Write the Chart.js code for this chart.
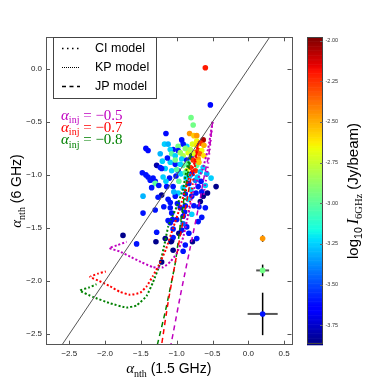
<!DOCTYPE html>
<html><head><meta charset="utf-8">
<script src="https://cdn.jsdelivr.net/npm/chart.js@4/dist/chart.umd.min.js"></script>
<style>html,body{margin:0;padding:0;background:#fff;}canvas{display:block;}</style>
</head><body>
<canvas id="c" width="390" height="382"></canvas>
<script>
// ---------- data ----------
const xTicks = [-2.5, -2.0, -1.5, -1.0, -0.5, 0.0, 0.5];
const yTicks = [-2.5, -2.0, -1.5, -1.0, -0.5, 0.0];
const cbTicks = [-3.75, -3.5, -3.25, -3.0, -2.75, -2.5, -2.25, -2.0];
const xRange = [-2.825, 0.603];
const yRange = [-2.6, 0.297];
const cbRange = [-3.87, -1.98];

// observed points: alpha_nth(1.5GHz), alpha_nth(6GHz), log10 I_6GHz
const ptX = [-0.60,-0.53,-0.80,-0.77,-1.15,-0.93,-1.43,-1.40,-1.17,-0.82,-0.76,-0.72,-0.63,-0.72,-0.67,-0.78,-0.86,-0.91,-0.98,-1.05,
 -1.09,-0.98,-0.84,-0.74,-0.70,-0.65,-1.07,-1.02,-0.91,-0.79,-0.93,-0.86,-0.77,-0.70,-1.09,-1.02,-1.28,-1.23,-1.16,-0.91,
 -0.81,-0.72,-0.63,-0.86,-0.74,-0.98,-1.07,-1.21,-1.40,-1.37,-1.33,-1.30,-1.19,-1.10,-1.30,-1.47,-1.21,-1.05,-1.12,-1.09,
 -1.47,-1.30,-1.09,-1.00,-0.45,-0.60,-0.70,-0.65,-0.63,-0.79,-0.67,-0.60,-0.79,-0.88,-0.95,-0.70,-0.86,-1.09,-1.05,-0.91,
 -1.28,-1.75,-1.56,-0.88,-0.72,-1.07,-0.93,-1.29,-1.05,-0.91,-0.78,-1.21,-1.12,-0.67,-0.58,-0.52,-0.79,-0.87,-0.97,-1.01,
 -0.91,-0.83,-0.74,-0.88,-0.98,-0.76,-0.88,-0.95,-1.02,-0.81,-0.72,-0.62,-0.69,-1.12,-1.23,-0.65,-0.91,-1.06,-1.43,-1.48,
 -1.14,-1.05,-1.07,-1.08,
 -0.95,-0.84,-0.76,-0.68,-0.62,-1.13,-1.20,-1.00,-0.94,-0.82,-0.71,-0.66,-1.15,-1.25,-1.35,-1.02,-0.84,-0.73,-0.57,-1.18,
 -0.97,-0.83,-1.16,-0.99,-1.26,-0.89,-0.80,-0.69,-1.04,-0.88];
const ptY = [0.01,-0.34,-0.46,-0.53,-0.61,-0.67,-0.75,-0.77,-0.71,-0.61,-0.63,-0.63,-0.67,-0.68,-0.70,-0.71,-0.73,-0.71,-0.73,-0.76,
 -0.76,-0.77,-0.79,-0.79,-0.77,-0.77,-0.80,-0.82,-0.82,-0.82,-0.85,-0.86,-0.86,-0.85,-0.88,-0.90,-0.91,-0.93,-0.94,-0.91,
 -0.93,-0.91,-0.93,-0.96,-0.96,-0.96,-0.96,-0.94,-1.02,-1.05,-1.03,-1.06,-1.02,-1.03,-1.08,-1.20,-1.19,-1.11,-1.23,-1.26,
 -1.36,-1.33,-1.31,-1.42,-1.11,-1.10,-1.11,-1.16,-1.20,-1.20,-1.25,-1.31,-1.37,-1.29,-1.31,-1.44,-1.49,-1.45,-1.51,-1.46,
 -1.54,-1.57,-1.65,-1.66,-1.60,-1.62,-1.52,-1.63,-1.71,-1.72,-1.63,-1.82,-1.43,-0.97,-0.99,-1.03,-0.99,-1.03,-1.06,-1.01,
 -1.12,-1.08,-1.05,-1.18,-1.17,-1.29,-0.75,-0.79,-0.86,-0.76,-0.72,-0.72,-0.88,-0.71,-0.80,-1.40,-1.39,-1.42,-1.00,-0.98,
 -1.11,-1.59,-1.36,-1.63,
 -0.90,-0.89,-0.80,-0.80,-0.82,-0.84,-0.87,-0.95,-0.99,-1.01,-1.02,-1.06,-1.06,-1.10,-1.12,-1.20,-1.23,-1.17,-1.17,-1.30,
 -1.55,-1.55,-1.60,-1.27,-1.21,-1.35,-1.14,-1.30,-1.16,-0.98];
const ptV = [-2.2,-3.62,-2.95,-2.95,-3.62,-3.62,-3.62,-3.62,-3.25,-2.45,-2.55,-2.45,-2.05,-2.65,-2.25,-2.7,-3.25,-3.6,-2.95,-3.6,
 -3.25,-3.6,-2.7,-2.45,-2.25,-2.65,-3.0,-3.25,-2.8,-3.6,-3.25,-3.6,-2.25,-2.45,-3.25,-3.6,-3.8,-3.6,-3.25,-3.0,
 -2.25,-3.0,-3.25,-2.7,-2.25,-3.6,-3.25,-3.6,-3.6,-3.6,-3.6,-3.6,-3.25,-3.6,-3.0,-3.3,-3.85,-3.6,-3.6,-3.6,
 -3.6,-3.6,-3.6,-3.6,-3.85,-3.25,-3.6,-3.6,-3.85,-3.6,-3.85,-3.6,-3.25,-3.6,-3.6,-3.6,-3.6,-3.6,-3.6,-3.45,
 -3.6,-3.85,-3.6,-3.6,-3.6,-3.85,-3.6,-3.85,-3.85,-3.6,-3.85,-3.85,-3.6,-3.25,-3.3,-3.25,-3.6,-3.25,-3.0,-3.6,
 -3.25,-3.6,-3.4,-3.6,-3.25,-3.6,-2.9,-2.85,-2.95,-2.8,-2.6,-2.5,-2.55,-3.3,-3.3,-3.6,-3.6,-3.6,-3.6,-3.6,
 -3.6,-3.6,-3.6,-3.85,
 -3.25,-3.0,-2.7,-2.35,-2.6,-3.6,-3.25,-3.0,-3.25,-3.3,-3.25,-3.6,-3.25,-3.6,-3.6,-3.6,-3.25,-3.6,-3.85,-3.6,
 -3.85,-3.6,-3.85,-3.6,-3.6,-3.6,-3.25,-3.6,-3.3,-3.0];

// typical uncertainty markers
const errX = [0.2, 0.2, 0.2];
const errY = [-1.60, -1.90, -2.31];
const errDX = [0.03, 0.09, 0.21];
const errDY = [0.03, 0.055, 0.20];
const errV = [-2.45, -2.95, -3.6];

// 1:1 line
const oneX = [-2.6, 0.3];
const oneY = [-2.6, 0.3];

// model tracks (alpha_inj = -0.5 magenta, -0.7 red, -0.8 green)
const loopMX = [-0.5,-0.56,-0.64,-0.72,-0.77,-0.84,-0.91,-1.0,-1.09,-1.19,-1.33,-1.5,-1.65,-1.8,-1.94,-1.82,-1.70];
const loopMY = [-0.5,-0.75,-0.95,-1.06,-1.16,-1.38,-1.59,-1.74,-1.82,-1.87,-1.87,-1.82,-1.77,-1.72,-1.69,-1.66,-1.63];
const loopRX = [-0.7,-0.76,-0.86,-0.95,-1.05,-1.15,-1.25,-1.33,-1.42,-1.51,-1.65,-1.8,-1.93,-2.08,-2.21,-2.10,-1.99];
const loopRY = [-0.7,-0.9,-1.09,-1.3,-1.5,-1.7,-1.85,-1.95,-2.05,-2.11,-2.13,-2.1,-2.05,-2.0,-1.96,-1.93,-1.91];
const loopGX = [-0.8,-0.86,-0.91,-1.0,-1.08,-1.12,-1.16,-1.23,-1.33,-1.42,-1.56,-1.70,-1.93,-2.17,-2.35,-2.22,-2.12];
const loopGY = [-0.8,-0.94,-1.13,-1.3,-1.42,-1.49,-1.62,-1.83,-2.01,-2.14,-2.23,-2.25,-2.21,-2.15,-2.09,-2.06,-2.03];
const jpMX = [-0.5,-0.55,-0.63,-0.67,-0.81,-0.95,-1.08];
const jpMY = [-0.5,-0.8,-1.06,-1.22,-1.68,-2.14,-2.6];
const jpRX = [-0.7,-0.75,-0.81,-0.86,-0.98,-1.12,-1.21];
const jpRY = [-0.7,-0.9,-1.06,-1.25,-1.68,-2.2,-2.6];
const jpGX = [-0.8,-0.85,-0.93,-1.02,-1.16,-1.27];
const jpGY = [-0.8,-1.0,-1.37,-1.83,-2.29,-2.6];
const ciMX = [-0.5,-0.53,-0.57,-0.63];
const ciMY = [-0.5,-0.7,-0.95,-1.22];
const ciRX = [-0.7,-0.74,-0.79,-0.85];
const ciRY = [-0.7,-0.9,-1.15,-1.4];
const ciGX = [-0.8,-0.84,-0.89,-0.95];
const ciGY = [-0.8,-1.0,-1.25,-1.5];

const injLabels = ['\u22120.5', '\u22120.7', '\u22120.8'];
const modelNames = ['CI model', 'KP model', 'JP model'];

// ---------- helpers ----------
const MAG = '#bf00bf', RED = '#ff0000', GRN = '#008000';
function interp(segs, t){
  for (let i = 1; i < segs.length; i++){
    if (t <= segs[i][0]){
      const [x0,y0] = segs[i-1], [x1,y1] = segs[i];
      return y0 + (y1-y0)*(t-x0)/(x1-x0);
    }
  }
  return segs[segs.length-1][1];
}
const jR = [[0,0],[0.35,0],[0.66,1],[0.89,1],[1,0.5]];
const jG = [[0,0],[0.125,0],[0.375,1],[0.64,1],[0.91,0],[1,0]];
const jB = [[0,0.5],[0.11,1],[0.34,1],[0.65,0],[1,0]];
function jet(v){
  let t = (v - cbRange[0])/(cbRange[1]-cbRange[0]);
  t = Math.max(0, Math.min(1, t));
  return 'rgb(' + Math.round(255*interp(jR,t)) + ',' + Math.round(255*interp(jG,t)) + ',' + Math.round(255*interp(jB,t)) + ')';
}
const zip = (xs, ys) => xs.map((x,i)=>({x:x, y:ys[i]}));
const fmt = v => (v < 0 ? '\u2212' : '') + Math.abs(v).toFixed(1);

function lineDs(xs, ys, color, dash, width, tension){
  return {type:'line', data: zip(xs,ys), borderColor: color, borderWidth: width, borderDash: dash,
    pointRadius: 0, fill: false, tension: tension, showLine: true, order: 1, borderCapStyle:'butt'};
}

function richWidth(ctx, parts){ let w=0; parts.forEach(p=>{ctx.font=p.f; w+=ctx.measureText(p.t).width;}); return w; }
function drawRich(ctx, parts, x, y, color){
  ctx.fillStyle = color; ctx.textBaseline = 'alphabetic'; ctx.textAlign = 'left';
  let cx = x;
  parts.forEach(p=>{ ctx.font = p.f; ctx.fillText(p.t, cx, y + (p.dy||0)); cx += ctx.measureText(p.t).width; });
}

const SANS = '"Liberation Sans", Arial, sans-serif';
const SERIF = '"Liberation Serif", "DejaVu Serif", serif';

const decor = {
  id: 'decor',
  beforeDatasetsDraw(chart){
    const ctx = chart.ctx, xs = chart.scales.x, ys = chart.scales.y;
    ctx.save();
    for (let i = 0; i < errX.length; i++){
      const px = xs.getPixelForValue(errX[i]), py = ys.getPixelForValue(errY[i]);
      ctx.strokeStyle = '#555'; ctx.lineWidth = 2;
      ctx.beginPath(); ctx.moveTo(xs.getPixelForValue(errX[i]-errDX[i]), py); ctx.lineTo(xs.getPixelForValue(errX[i]+errDX[i]), py); ctx.stroke();
      ctx.strokeStyle = '#000'; ctx.lineWidth = 1.5;
      ctx.beginPath(); ctx.moveTo(px, ys.getPixelForValue(errY[i]-errDY[i])); ctx.lineTo(px, ys.getPixelForValue(errY[i]+errDY[i])); ctx.stroke();
    }
    ctx.restore();
  },
  afterDatasetsDraw(chart){
    const ctx = chart.ctx, a = chart.chartArea, xs = chart.scales.x, ys = chart.scales.y, cb = chart.scales.cb;
    ctx.save();
    ctx.strokeStyle = '#555'; ctx.lineWidth = 1;
    ctx.strokeRect(Math.round(a.left)+0.5, Math.round(a.top)+0.5, Math.round(a.right-a.left), Math.round(a.bottom-a.top));
    ctx.beginPath();
    xTicks.forEach(v=>{ const p = Math.round(xs.getPixelForValue(v))+0.5;
      ctx.moveTo(p, a.bottom); ctx.lineTo(p, a.bottom-4); ctx.moveTo(p, a.top); ctx.lineTo(p, a.top+4); });
    yTicks.forEach(v=>{ const p = Math.round(ys.getPixelForValue(v))+0.5;
      ctx.moveTo(a.left, p); ctx.lineTo(a.left+4, p); ctx.moveTo(a.right, p); ctx.lineTo(a.right-4, p); });
    ctx.stroke();

    // legend box
    const lx = 53.5, ly = 37.5, lw = 103, lh = 61;
    ctx.fillStyle = '#fff'; ctx.fillRect(lx, ly, lw, lh);
    ctx.strokeStyle = '#444'; ctx.lineWidth = 1; ctx.strokeRect(lx, ly, lw, lh);
    const rows = [48.5, 67.5, 86.5];
    const dashes = [[1.5,3.5],[1,1],[4,3.5]];
    const widths = [1.5,1,1.3];
    rows.forEach((ry,i)=>{
      ctx.strokeStyle = '#000'; ctx.lineWidth = widths[i]; ctx.setLineDash(dashes[i]);
      ctx.beginPath(); ctx.moveTo(62, ry); ctx.lineTo(80, ry); ctx.stroke();
      ctx.setLineDash([]);
      ctx.fillStyle = '#000'; ctx.font = '12.5px ' + SANS; ctx.textBaseline = 'middle'; ctx.textAlign = 'left';
      ctx.fillText(modelNames[i], 95, ry);
    });

    // alpha_inj annotations
    const annC = [MAG, RED, GRN], annY = [119.5, 131.5, 144];
    annC.forEach((c,i)=>{
      drawRich(ctx, [
        {t:'\u03b1', f:'italic 15px ' + SERIF},
        {t:'inj', f:'10px ' + SERIF, dy:3.5},
        {t:' = ' + injLabels[i], f:'15px ' + SERIF}
      ], 61, annY[i], c);
    });

    // colorbar
    const cx0 = 307, cx1 = 323;
    const N = 240;
    for (let k = 0; k < N; k++){
      const v0 = cbRange[0] + (cbRange[1]-cbRange[0])*k/N;
      const v1 = cbRange[0] + (cbRange[1]-cbRange[0])*(k+1)/N;
      const p0 = cb.getPixelForValue(v0), p1 = cb.getPixelForValue(v1);
      ctx.fillStyle = jet((v0+v1)/2);
      ctx.fillRect(cx0, p1, cx1-cx0, p0-p1+0.6);
    }
    ctx.strokeStyle = '#444'; ctx.lineWidth = 1;
    ctx.strokeRect(cx0+0.5, Math.round(cb.top)+0.5, cx1-cx0-1, Math.round(cb.bottom-cb.top)-1);
    ctx.beginPath();
    cbTicks.forEach(v=>{ const p = Math.round(cb.getPixelForValue(v))+0.5; ctx.moveTo(cx1-3, p); ctx.lineTo(cx1, p); });
    ctx.strokeStyle = '#666'; ctx.stroke();

    // axis titles
    const xParts = [
      {t:'\u03b1', f:'italic 15px ' + SERIF},
      {t:'nth', f:'10px ' + SERIF, dy:3.5},
      {t:' (1.5 GHz)', f:'14px ' + SANS}
    ];
    const xw = richWidth(ctx, xParts);
    drawRich(ctx, xParts, (a.left+a.right)/2 - xw/2, 373, '#000');

    const yParts = [
      {t:'\u03b1', f:'italic 15px ' + SERIF},
      {t:'nth', f:'10px ' + SERIF, dy:3.5},
      {t:' (6 GHz)', f:'14px ' + SANS}
    ];
    const yw = richWidth(ctx, yParts);
    ctx.save(); ctx.translate(21, (a.top+a.bottom)/2); ctx.rotate(-Math.PI/2);
    drawRich(ctx, yParts, -yw/2, 0, '#000'); ctx.restore();

    const cParts = [
      {t:'log', f:'15px ' + SANS},
      {t:'10', f:'10.5px ' + SANS, dy:4},
      {t:'\u2009', f:'15px ' + SANS},
      {t:'I', f:'italic 16px ' + SERIF},
      {t:'6GHz', f:'10.5px ' + SERIF, dy:4},
      {t:' (Jy/beam)', f:'15px ' + SANS}
    ];
    const cw = richWidth(ctx, cParts);
    ctx.save(); ctx.translate(358, (a.top+a.bottom)/2); ctx.rotate(-Math.PI/2);
    drawRich(ctx, cParts, -cw/2, 0, '#000'); ctx.restore();

    ctx.restore();
  }
};

const datasets = [
  {type:'scatter', data: zip(errX, errY), pointRadius: 2.8, pointBorderWidth: 0, pointHoverRadius: 2.8,
   pointBackgroundColor: errV.map(jet), order: 0},
  lineDs(oneX, oneY, '#555', [], 1, 0),
  lineDs(loopMX, loopMY, MAG, [2,2], 2, 0.12),
  lineDs(loopRX, loopRY, RED, [2,2], 2, 0.12),
  lineDs(loopGX, loopGY, GRN, [2,2], 2, 0.12),
  lineDs(jpMX, jpMY, MAG, [5,4], 1.5, 0.15),
  lineDs(jpRX, jpRY, RED, [5,4], 1.5, 0.15),
  lineDs(jpGX, jpGY, GRN, [5,4], 1.5, 0.15),
  lineDs(ciMX, ciMY, MAG, [1.5,3], 2, 0.15),
  lineDs(ciRX, ciRY, RED, [1.5,3], 2, 0.15),
  lineDs(ciGX, ciGY, GRN, [1.5,3], 2, 0.15),
  {type:'scatter', data: zip(ptX, ptY), pointRadius: 2.8, pointBorderWidth: 0, pointHoverRadius: 2.8,
   pointBackgroundColor: ptV.map(jet), order: 2}
];

new Chart(document.getElementById('c'), {
  type: 'scatter',
  data: { datasets: datasets },
  options: {
    responsive: false, animation: false, devicePixelRatio: 1,
    layout: { padding: { top: 32, left: 0, right: 0, bottom: 0 } },
    plugins: { legend: { display: false }, tooltip: { enabled: false } },
    events: [],
    scales: {
      x: {
        type: 'linear', position: 'bottom', min: xRange[0], max: xRange[1],
        grid: { display: false, drawTicks: false }, border: { display: false },
        ticks: { font: { family: 'Liberation Sans', size: 8 }, color: '#222', padding: 4, callback: v => fmt(v), maxRotation: 0 },
        afterBuildTicks: s => { s.ticks = xTicks.map(v => ({ value: v })); },
        afterFit: s => { s.height = 35; }
      },
      y: {
        type: 'linear', position: 'left', min: yRange[0], max: yRange[1],
        grid: { display: false, drawTicks: false }, border: { display: false },
        ticks: { font: { family: 'Liberation Sans', size: 8 }, color: '#222', padding: 4, callback: v => fmt(v) },
        afterBuildTicks: s => { s.ticks = yTicks.map(v => ({ value: v })); },
        afterFit: s => { s.width = 46; }
      },
      cb: {
        type: 'linear', position: 'right', min: cbRange[0], max: cbRange[1],
        grid: { display: false, drawTicks: false }, border: { display: false },
        ticks: { font: { family: 'Liberation Sans', size: 5.5 }, color: '#333', padding: 34, callback: v => v.toFixed(2) },
        afterBuildTicks: s => { s.ticks = cbTicks.map(v => ({ value: v })); },
        afterFit: s => { s.width = 98.5; }
      }
    }
  },
  plugins: [decor]
});
</script>
</body></html>
